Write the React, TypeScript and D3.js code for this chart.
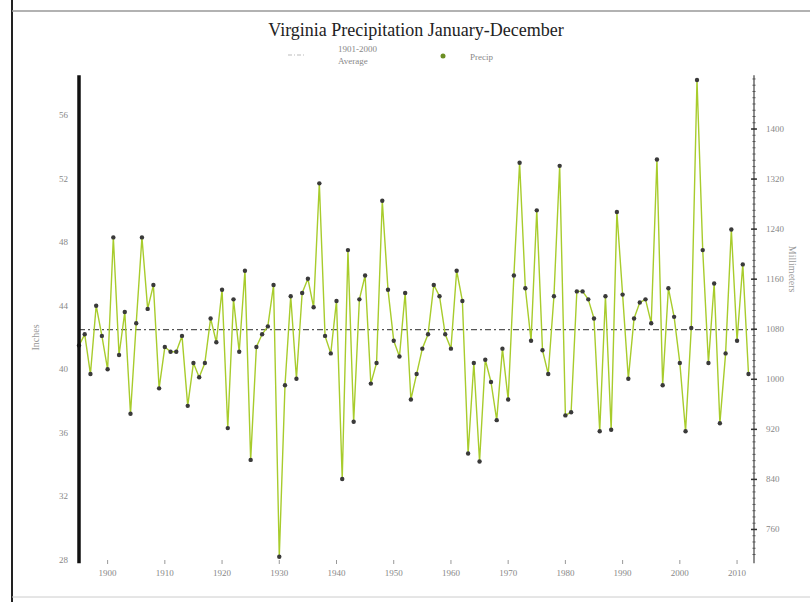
import React from 'react';
import * as d3 from 'd3';

const START_YEAR = 1895;
const precipInches = [
  41.5, 42.2, 39.7, 44.0, 42.1, 40.0, 48.3, 40.9, 43.6, 37.2,
  42.9, 48.3, 43.8, 45.3, 38.8, 41.4, 41.1, 41.1, 42.1, 37.7,
  40.4, 39.5, 40.4, 43.2, 41.7, 45.0, 36.3, 44.4, 41.1, 46.2,
  34.3, 41.4, 42.2, 42.7, 45.3, 28.2, 39.0, 44.6, 39.4, 44.8,
  45.7, 43.9, 51.7, 42.1, 41.0, 44.3, 33.1, 47.5, 36.7, 44.4,
  45.9, 39.1, 40.4, 50.6, 45.0, 41.8, 40.8, 44.8, 38.1, 39.7,
  41.3, 42.2, 45.3, 44.6, 42.2, 41.3, 46.2, 44.3, 34.7, 40.4,
  34.2, 40.6, 39.2, 36.8, 41.3, 38.1, 45.9, 53.0, 45.1, 41.8,
  50.0, 41.2, 39.7, 44.6, 52.8, 37.1, 37.3, 44.9, 44.9, 44.4,
  43.2, 36.1, 44.6, 36.2, 49.9, 44.7, 39.4, 43.2, 44.2, 44.4,
  42.9, 53.2, 39.0, 45.1, 43.3, 40.4, 36.1, 42.6, 58.2, 47.5,
  40.4, 45.4, 36.6, 41.0, 48.8, 41.8, 46.6, 39.7,
];
const years = precipInches.map((_, i) => START_YEAR + i);
const MEAN_INCHES = 42.5;
const leftTicks = [28, 32, 36, 40, 44, 48, 52, 56];
const rightTicks = [760, 840, 920, 1000, 1080, 1160, 1240, 1320, 1400];
const xTicks = [1900, 1910, 1920, 1930, 1940, 1950, 1960, 1970, 1980, 1990, 2000, 2010];

const TITLE = 'Virginia Precipitation January-December';
const LEGEND_MEAN = ['1901-2000', 'Average'];
const LEGEND_SERIES = 'Precip';
const LEFT_TITLE = 'Inches';
const RIGHT_TITLE = 'Millimeters';

export default function App() {
  const W = 810, H = 602;
  const x = d3.scaleLinear().domain([1895, 2012]).range([79, 748.5]);
  const y = d3.scaleLinear().domain([28, 56]).range([560, 115]);
  const yMm = d3.scaleLinear().domain([28 * 25.4, 56 * 25.4]).range([560, 115]);
  const yTop = y(58.5), yBot = y(27.8);
  const axL = 79, axR = 754;
  const line = d3.line<number>().x((_, i) => x(years[i])).y(d => y(d));
  const minorMm = d3.range(720, 1490, 10);
  const font = '"Liberation Serif", "DejaVu Serif", serif';
  return (
    <svg width={W} height={H} style={{ position: 'absolute', left: 0, top: 0, background: '#fff' }}>
      <rect x={0} y={0} width={W} height={H} fill="#fff" />
      <line x1={12} y1={0} x2={12} y2={H} stroke="#222" strokeWidth={2} />
      <line x1={12} y1={11} x2={W} y2={11} stroke="#999" strokeWidth={1.5} />
      <line x1={12} y1={597} x2={W} y2={597} stroke="#ccc" strokeWidth={1} />
      <text x={416} y={36} textAnchor="middle" fontFamily={font} fontSize={18} fill="#222">{TITLE}</text>
      <line x1={288} y1={55} x2={306} y2={55} stroke="#bbb" strokeWidth={1} strokeDasharray="4,2,1,2" />
      <text x={338} y={52} fontFamily={font} fontSize={9} fill="#888">{LEGEND_MEAN[0]}</text>
      <text x={338} y={64} fontFamily={font} fontSize={9} fill="#888">{LEGEND_MEAN[1]}</text>
      <circle cx={443} cy={56} r={2.5} fill="#6b8e23" />
      <text x={470} y={60} fontFamily={font} fontSize={9} fill="#888">{LEGEND_SERIES}</text>
      <line x1={axL} x2={axR} y1={y(MEAN_INCHES)} y2={y(MEAN_INCHES)} stroke="#555" strokeWidth={1.2} strokeDasharray="6,3,2,3" />
      <path d={line(precipInches) || ''} fill="none" stroke="#a8cc2c" strokeWidth={1.4} strokeLinejoin="round" />
      {precipInches.map((v, i) => (
        <circle key={i} cx={x(years[i])} cy={y(v)} r={2.2} fill="#3a3a3a" />
      ))}
      <line x1={axL} x2={axL} y1={yTop} y2={yBot} stroke="#111" strokeWidth={3.5} />
      {leftTicks.map(t => (
        <text key={t} x={68} y={y(t) + 3} textAnchor="end" fontFamily={font} fontSize={9} fill="#888">{t}</text>
      ))}
      <text transform={`translate(39,${y(42)}) rotate(-90)`} textAnchor="middle" fontFamily={font} fontSize={10} fill="#999">{LEFT_TITLE}</text>
      <line x1={axR} x2={axR} y1={yTop} y2={yBot} stroke="#444" strokeWidth={1.2} />
      {minorMm.filter(m => yMm(m) >= yTop && yMm(m) <= yBot).map(m => (
        <line key={m} x1={axR - 1.5} x2={axR + 1.5} y1={yMm(m)} y2={yMm(m)} stroke="#555" strokeWidth={1} />
      ))}
      {rightTicks.map(t => (
        <g key={t}>
          <line x1={axR - 3} x2={axR + 3} y1={yMm(t)} y2={yMm(t)} stroke="#333" strokeWidth={1.5} />
          <text x={766} y={yMm(t) + 3} fontFamily={font} fontSize={9} fill="#888">{t}</text>
        </g>
      ))}
      <text transform={`translate(789,${yMm(1160) - 10}) rotate(90)`} textAnchor="middle" fontFamily={font} fontSize={10} fill="#999">{RIGHT_TITLE}</text>
      {xTicks.map(t => (
        <g key={t}>
          <line x1={x(t)} x2={x(t)} y1={560} y2={564} stroke="#999" strokeWidth={1} />
          <text x={x(t)} y={576} textAnchor="middle" fontFamily={font} fontSize={9} fill="#888">{t}</text>
        </g>
      ))}
    </svg>
  );
}
